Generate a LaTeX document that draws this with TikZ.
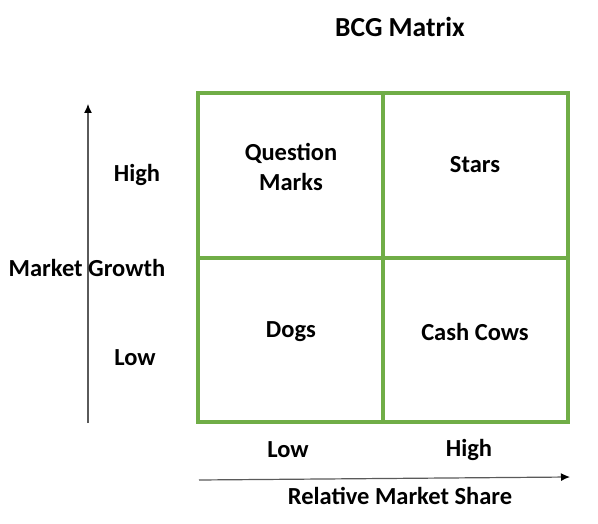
\documentclass[tikz,border=0pt]{standalone}
\usepackage{fontspec}
\setmainfont{Carlito}
\usetikzlibrary{arrows.meta}
\definecolor{gridgreen}{RGB}{112,173,71}
\definecolor{axisgray}{RGB}{90,90,90}
\begin{document}
\begin{tikzpicture}[x=1pt,y=-1pt,
  lbl/.style={font=\fontsize{24.5}{30}\selectfont\bfseries, text=black, inner sep=0pt, align=center},
  titlelbl/.style={lbl, font=\fontsize{27.5}{33}\selectfont\bfseries},
  cell/.style={draw=gridgreen, line width=3.3pt},
  axis/.style={draw=axisgray, line width=1.2pt, -{Latex[length=9pt,width=8pt,color=black]}}]
\useasboundingbox (0,0) rectangle (598,524);
\fill[white] (0,0) rectangle (598,524);
% grid
\coordinate (tl) at (198,93);
\coordinate (br) at (568,422);
\coordinate (tm) at (383,93);
\coordinate (bm) at (383,422);
\coordinate (ml) at (198,258);
\coordinate (mr) at (568,258);
\draw[cell] (tl) rectangle (br);
\draw[cell] (tm) -- (bm);
\draw[cell] (ml) -- (mr);
% axes
\coordinate (vs) at (88,423);
\coordinate (ve) at (88,104);
\coordinate (hs) at (199,480);
\coordinate (he) at (570,477);
\draw[axis] (vs) -- (ve);
\draw[axis] (hs) -- (he);
% texts
\node[titlelbl] (title) at (400,27) {BCG Matrix};
\node[lbl] (qm) at (291,167) {Question\\Marks};
\node[lbl] (stars) at (475,165) {Stars};
\node[lbl] (dogs) at (291,332) {Dogs};
\node[lbl] (cows) at (475,332) {Cash Cows};
\node[lbl] (yhigh) at (137,175) {High};
\node[lbl] (ylow) at (135,358) {Low};
\node[lbl] (ylab) at (87,268) {Market Growth};
\node[lbl] (xlow) at (288,450) {Low};
\node[lbl] (xhigh) at (469,450) {High};
\node[lbl] (xlab) at (400,496) {Relative Market Share};
\end{tikzpicture}
\end{document}
